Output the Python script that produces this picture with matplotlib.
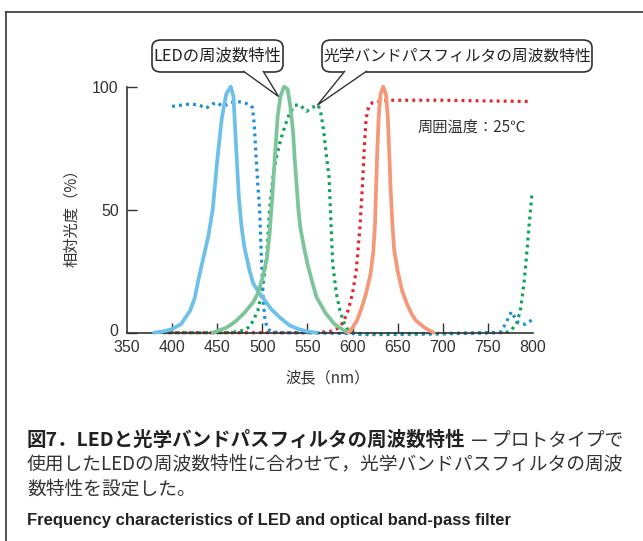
import matplotlib
matplotlib.use("Agg")
import matplotlib.pyplot as plt
import matplotlib.transforms as mtransforms
from matplotlib.patches import FancyBboxPatch, Polygon
from matplotlib.lines import Line2D

plt.rcParams['font.family'] = ['Noto Sans CJK JP', 'DejaVu Sans']

# ---- data ----
led_blue_x = [380, 390, 400, 410, 420, 425, 430, 435, 440, 445, 450, 455, 460, 465, 468, 471, 474, 477, 480, 486, 490, 495, 500, 510, 520, 530, 540, 550, 560]
led_blue_y = [0, 0.5, 1.5, 3.5, 9, 14, 23, 31, 39, 50, 70, 87, 97, 100, 96, 75, 55, 43, 35, 25, 20, 17, 14.5, 9.5, 6, 3, 1.5, 0.5, 0]

led_green_x = [445, 460, 470, 480, 490, 495, 500, 505, 508, 511, 514, 517, 520, 524, 528, 531, 534, 536, 538, 540, 542, 546, 550, 555, 560, 570, 580, 590, 595]
led_green_y = [0, 2, 4.5, 8, 12.5, 16, 22, 30, 40, 55, 72, 88, 96, 100, 99, 92, 82, 70, 60, 50, 43, 35, 28, 21, 14.5, 8, 3.5, 1, 0]

led_red_x = [595, 600, 605, 610, 615, 620, 623, 625, 627, 629, 631, 634, 637, 639, 641, 642, 644, 646, 650, 655, 660, 665, 670, 680, 690]
led_red_y = [0, 2, 5, 10, 16, 24, 33, 45, 70, 88, 97, 100, 97, 88, 70, 60, 45, 34, 25, 17, 12, 8, 5, 2, 0]

flt_blue_x = [400, 410, 420, 430, 438, 445, 450, 456, 465, 472, 480, 487, 489, 491, 493, 495, 497, 499, 501, 503, 506, 510, 520, 550, 600, 700, 760, 765, 770, 776, 780, 784, 788, 792, 796, 800]
flt_blue_y = [92, 92.5, 93, 92.5, 91.3, 93, 93.5, 92, 93.5, 94, 93.5, 92.5, 91.5, 85, 72, 60, 50, 30, 13, 5, 1.5, 0.5, 0, 0, -0.4, -0.3, 0, 0.5, 4, 8.5, 6, 4, 3.5, 3.5, 4.5, 5.5]

flt_green_x = [390, 460, 470, 480, 486, 490, 495, 500, 505, 508, 512, 516, 520, 525, 530, 536, 542, 546, 549, 553, 558, 562, 565, 568, 571, 574, 576, 578, 582, 586, 590, 595, 600, 610, 650, 700, 750, 770, 776, 782, 786, 790, 793, 796, 799]
flt_green_y = [0, 0, 0.3, 1, 2.5, 5, 9, 17, 32, 50, 64, 72, 78, 84, 89, 92.5, 92.5, 91, 90, 91, 92, 92.5, 89, 82, 72, 63, 45, 28, 16, 9, 4.5, 1, 0, -0.8, -0.7, -0.5, 0, 0, 1, 4, 9, 20, 32, 45, 57]

flt_red_x = [395, 500, 560, 575, 585, 590, 595, 600, 604, 608, 611, 613, 615, 618, 622, 630, 640, 660, 700, 750, 797]
flt_red_y = [0, 0, 0, 0.5, 2, 4.5, 9, 16, 25, 42, 60, 75, 87, 92, 93.5, 94, 94.5, 94.5, 94.5, 94.2, 94]

x_ticks = [350, 400, 450, 500, 550, 600, 650, 700, 750, 800]
y_ticks = [0, 50, 100]

W, H = 643, 541
fig = plt.figure(figsize=(W / 100, H / 100), dpi=100)

def fx(x):
    return x / W

def fy(y):
    return 1 - y / H

ax = fig.add_axes([fx(127), fy(332.7), fx(533) - fx(127), fy(86.7) - fy(332.7)])
ax.set_xlim(350, 800)
ax.set_ylim(0, 100)

c_led_blue = '#6cc0ea'
c_led_green = '#7cc598'
c_led_red = '#f59878'
c_f_blue = '#1b8fd6'
c_f_green = '#0aa556'
c_f_red = '#e8232b'

dot = (0, (0.9, 1.3))
ax.plot(flt_red_x, flt_red_y, color=c_f_red, lw=2.3, ls=dot, clip_on=False, zorder=2)
ax.plot(flt_green_x, flt_green_y, color=c_f_green, lw=2.3, ls=dot, clip_on=False, zorder=2)
ax.plot(flt_blue_x, flt_blue_y, color=c_f_blue, lw=2.3, ls=dot, clip_on=False, zorder=2)
ax.plot(led_blue_x, led_blue_y, color=c_led_blue, lw=2.7, clip_on=False, zorder=3, solid_capstyle='round')
ax.plot(led_green_x, led_green_y, color=c_led_green, lw=2.7, clip_on=False, zorder=3, solid_capstyle='round')
ax.plot(led_red_x, led_red_y, color=c_led_red, lw=2.7, clip_on=False, zorder=3, solid_capstyle='round')

for s in ['top', 'right']:
    ax.spines[s].set_visible(False)
for s in ['left', 'bottom']:
    ax.spines[s].set_color('#333333')
    ax.spines[s].set_linewidth(1.2)

ax.set_xticks(x_ticks)
ax.set_xticklabels([str(t) for t in x_ticks], fontfamily=['Liberation Sans', 'DejaVu Sans'])
ax.set_yticks(y_ticks)
ax.set_yticklabels([str(t) for t in y_ticks], fontfamily=['Liberation Sans', 'DejaVu Sans'])
ax.tick_params(axis='both', direction='in', length=7, width=1.0, color='#333333',
               labelsize=11.5, labelcolor='#333333')
ax.tick_params(axis='x', pad=5)
ax.tick_params(axis='y', pad=6)
xt = ax.xaxis.get_major_ticks()
xt[0].tick1line.set_visible(False)
xt[-1].tick1line.set_visible(False)
# lift the "0" label slightly so it does not collide with "350"
lbl0 = ax.get_yticklabels()[0]
lbl0.set_transform(lbl0.get_transform() + mtransforms.ScaledTranslation(0, 3 / 100, fig.dpi_scale_trans))

fig.text(fx(72), fy(214), '相対光度（%）', rotation=90, ha='center', va='center', fontsize=11, color='#333333')
fig.text(fx(328), fy(378), '波長（nm）', ha='center', va='center', fontsize=11, color='#333333')
fig.text(fx(418), fy(127), '周囲温度：25℃', ha='left', va='center', fontsize=11, color='#333333')

def to_fig(xd, yd):
    return fig.transFigure.inverted().transform(ax.transData.transform((xd, yd)))

def callout(x0, x1, y0, y1, text, b0, b1, tip, fs):
    box = FancyBboxPatch((fx(x0), fy(y1)), fx(x1) - fx(x0), fy(y0) - fy(y1),
                         boxstyle='round,pad=0,rounding_size=0.014',
                         transform=fig.transFigure, facecolor='white', edgecolor='#333333', lw=1.2, zorder=5)
    fig.add_artist(box)
    tx, ty = to_fig(*tip)
    poly = Polygon([(fx(b0), fy(y1) + 0.002), (tx, ty), (fx(b1), fy(y1) + 0.002)], closed=False,
                   transform=fig.transFigure, facecolor='white', edgecolor='#333333', lw=1.0, zorder=6)
    fig.add_artist(poly)
    fig.text((fx(x0) + fx(x1)) / 2, (fy(y0) + fy(y1)) / 2, text, ha='center', va='center',
             fontsize=fs, color='#222222', zorder=7)

callout(152, 283, 40, 72, 'LEDの周波数特性', 243, 263, (518, 96), 11.8)
callout(322, 592, 40, 72, '光学バンドパスフィルタの周波数特性', 345, 367, (561, 92.5), 11.3)

# frame
fig.add_artist(Line2D([fx(6), fx(643)], [fy(12), fy(12)], transform=fig.transFigure, color='#333333', lw=1.2))
fig.add_artist(Line2D([fx(6), fx(6)], [fy(12), fy(541)], transform=fig.transFigure, color='#333333', lw=1.2))

# caption
fig.text(fx(27), fy(440), '図7．LEDと光学バンドパスフィルタの周波数特性', ha='left', va='center',
         fontsize=14, fontweight='bold', color='#222222')
fig.text(fx(623), fy(440), '— プロトタイプで', ha='right', va='center', fontsize=13.5, color='#333333')
fig.text(fx(27), fy(464), '使用したLEDの周波数特性に合わせて，光学バンドパスフィルタの周波', ha='left', va='center',
         fontsize=13.5, color='#333333')
fig.text(fx(27), fy(489), '数特性を設定した。', ha='left', va='center', fontsize=13.5, color='#333333')
fig.text(fx(27), fy(521), 'Frequency characteristics of LED and optical band-pass filter', ha='left', va='center',
         fontsize=12, fontweight='bold', color='#222222', fontfamily=['Liberation Sans', 'DejaVu Sans'])

fig.savefig('out.png', dpi=100)
